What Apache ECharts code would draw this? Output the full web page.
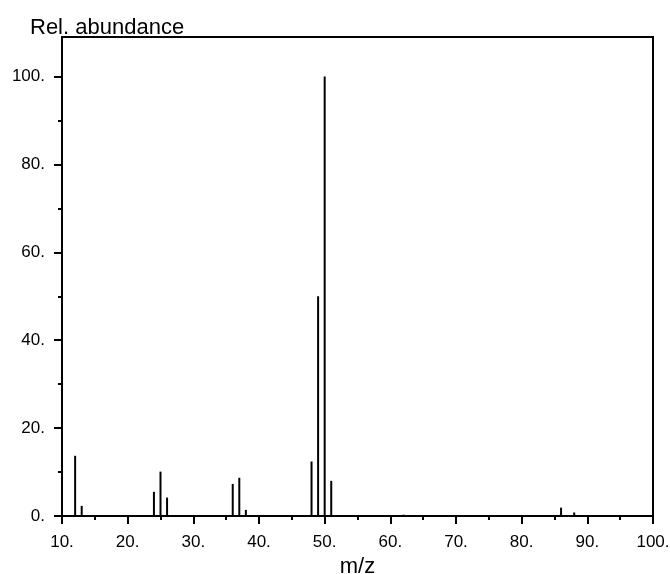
<!DOCTYPE html>
<html>
<head>
<meta charset="utf-8">
<script src="https://cdn.jsdelivr.net/npm/echarts@6/dist/echarts.min.js"></script>
<style>html,body{margin:0;padding:0;background:#fff;}#c{width:670px;height:574px;}</style>
</head>
<body>
<div id="c"></div>
<script>
var mz = [12, 13, 24, 25, 26, 36, 37, 38, 48, 49, 50, 51, 62, 86, 88];
var abundance = [13.7, 2.3, 5.5, 10.1, 4.2, 7.3, 8.7, 1.4, 12.4, 50.0, 100, 8.0, 0.3, 1.9, 0.8];
var yMajorTicks = [0, 20, 40, 60, 80, 100];
var yMinorTicks = [10, 30, 50, 70, 90];

var font = 'Liberation Sans, Arial, sans-serif';
var chart = echarts.init(document.getElementById('c'));
chart.setOption({
  animation: false,
  grid: { left: 62, right: 17, top: 37, bottom: 58, containLabel: false, outerBoundsMode: 'none', show: true, borderColor: '#000', borderWidth: 2, backgroundColor: 'transparent' },
  xAxis: {
    type: 'value', min: 10, max: 100, interval: 10,
    name: 'm/z', nameLocation: 'middle', nameGap: 33,
    nameTextStyle: { fontFamily: font, fontSize: 22, color: '#000' },
    axisLine: { show: true, lineStyle: { color: '#000', width: 2 } },
    axisTick: { show: true, inside: false, length: 8, lineStyle: { color: '#000', width: 2 } },
    minorTick: { show: true, splitNumber: 2, length: 4, lineStyle: { color: '#000', width: 2 } },
    splitLine: { show: false },
    axisLabel: { margin: 18, fontFamily: font, fontSize: 17, color: '#000', formatter: function (v) { return v + '.'; } }
  },
  yAxis: [{
    type: 'value', min: 0, max: 109,
    name: 'Rel. abundance', nameLocation: 'end', nameGap: -2,
    nameTextStyle: { fontFamily: font, fontSize: 22, color: '#000', align: 'left', padding: [0, 0, 0, -32] },
    axisLine: { show: true, lineStyle: { color: '#000', width: 2 } },
    axisTick: { show: true, inside: false, length: 8, customValues: yMajorTicks, lineStyle: { color: '#000', width: 2 } },
    splitLine: { show: false },
    axisLabel: { margin: 17, fontFamily: font, fontSize: 17, color: '#000', customValues: yMajorTicks, formatter: function (v) { return v + '.'; } }
  }, {
    type: 'value', min: 0, max: 109, position: 'left',
    axisLine: { show: false },
    axisTick: { show: true, inside: false, length: 4, customValues: yMinorTicks, lineStyle: { color: '#000', width: 2 } },
    splitLine: { show: false },
    axisLabel: { show: false }
  }],
  series: [{
    type: 'bar',
    barWidth: 2,
    itemStyle: { color: '#000' },
    data: mz.map(function (m, i) { return [m, abundance[i]]; })
  }]
});
</script>
</body>
</html>
